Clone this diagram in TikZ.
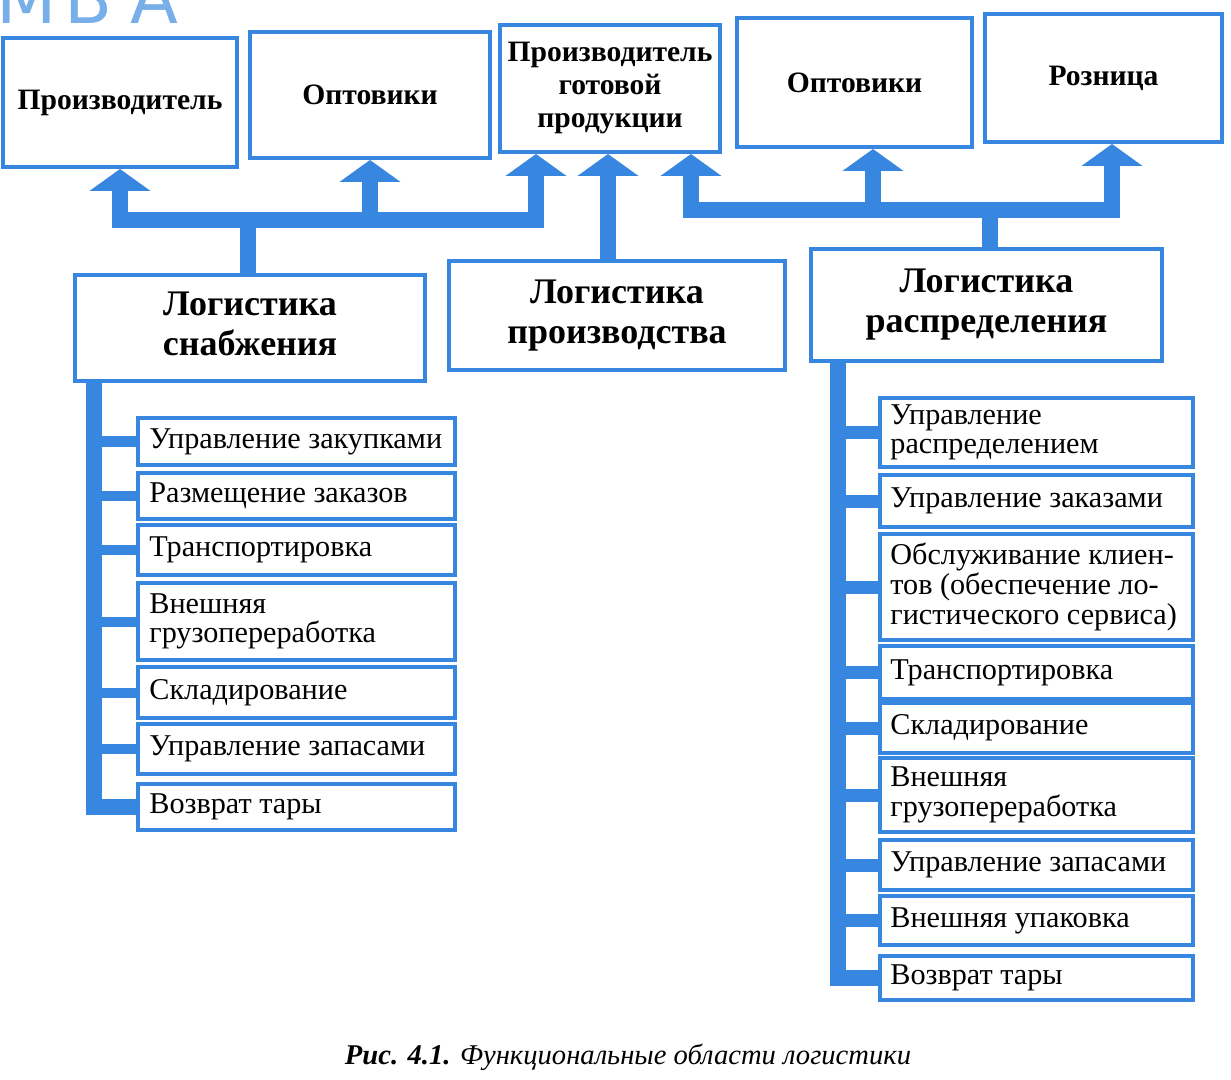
\documentclass[tikz,border=0pt]{standalone}
\usepackage{fontspec}
\setmainfont{Liberation Serif}
\newfontfamily\hdrfont{DejaVu Sans}
\usetikzlibrary{arrows.meta,fit,calc}
\definecolor{bl}{RGB}{55,135,225}
\definecolor{hdrc}{RGB}{120,175,232}
\begin{document}
\begin{tikzpicture}[x=0.5pt,y=-0.5pt,
  bbox/.style={draw=bl, line width=2pt, fill=white, inner sep=0pt},
  ttl/.style={font=\bfseries\fontsize{14.8}{16.5}\selectfont, align=center, inner sep=0pt},
  midtxt/.style={font=\bfseries\fontsize{18}{20}\selectfont, align=center, inner sep=0pt},
  itemtxt/.style={font=\fontsize{15.1}{14.8}\selectfont, align=left, anchor=west, inner sep=0pt},
  flow/.style={draw=bl, line width=8pt, line join=miter},
  uparrow/.style={-{Triangle[width=30pt,length=11pt]}},
  stubL/.style={draw=bl, line width=5pt},
  stubR/.style={draw=bl, line width=6.5pt},
]
\useasboundingbox (0,0) rectangle (1231,1080);
\fill[white] (0,0) rectangle (1231,1080);

% header fragment
\node[anchor=base west, inner sep=0pt, text=hdrc, font=\hdrfont\fontsize{35}{35}\selectfont] (hdr) at (-4,24) {М\kern4pt В\kern9pt А};

% top row
\node[bbox, fit={(3,38) (237,167)}] (top1) {};
\node[ttl] (top1t) at (top1.center) {Производитель};
\node[bbox, fit={(250,32) (490,158)}] (top2) {};
\node[ttl] (top2t) at (top2.center) {Оптовики};
\node[bbox, fit={(500,25) (720,152)}] (top3) {};
\node[ttl] (top3t) at (top3.center) {Производитель\\готовой\\продукции};
\node[bbox, fit={(737,18) (972,147)}] (top4) {};
\node[ttl] (top4t) at (top4.center) {Оптовики};
\node[bbox, fit={(985,14) (1222,142)}] (top5) {};
\node[ttl] (top5t) at (top5.center) {Розница};

% middle row
\node[bbox, fit={(75,275) (425,381)}] (ls) {};
\node[midtxt] (lst) at ([yshift=2pt]ls.center) {Логистика\\снабжения};
\node[bbox, fit={(449,261) (785,370)}] (lp) {};
\node[midtxt] (lpt) at (lp.center) {Логистика\\производства};
\node[bbox, fit={(811,249) (1162,361)}] (lr) {};
\node[midtxt] (lrt) at (lr.center) {Логистика\\распределения};

% left column boxes
\node[bbox, fit={(138,418) (455,465)}] (l1) {};
\node[itemtxt] (l1t) at ([xshift=6.5pt]l1.west) {Управление закупками};
\node[bbox, fit={(138,473) (455,519)}] (l2) {};
\node[itemtxt] (l2t) at ([xshift=6.5pt]l2.west) {Размещение заказов};
\node[bbox, fit={(138,525) (455,575)}] (l3) {};
\node[itemtxt] (l3t) at ([xshift=6.5pt]l3.west) {Транспортировка};
\node[bbox, fit={(138,583) (455,660)}] (l4) {};
\node[itemtxt] (l4t) at ([xshift=6.5pt]l4.west) {Внешняя\\грузопереработка};
\node[bbox, fit={(138,667) (455,718)}] (l5) {};
\node[itemtxt] (l5t) at ([xshift=6.5pt]l5.west) {Складирование};
\node[bbox, fit={(138,724) (455,774)}] (l6) {};
\node[itemtxt] (l6t) at ([xshift=6.5pt]l6.west) {Управление запасами};
\node[bbox, fit={(138,784) (455,830)}] (l7) {};
\node[itemtxt] (l7t) at ([xshift=6.5pt]l7.west) {Возврат тары};

% right column boxes
\node[bbox, fit={(880,398) (1193,467)}] (r1) {};
\node[itemtxt] (r1t) at ([xshift=6pt]r1.west) {Управление\\распределением};
\node[bbox, fit={(880,475) (1193,527)}] (r2) {};
\node[itemtxt] (r2t) at ([xshift=6pt]r2.west) {Управление заказами};
\node[bbox, fit={(880,534) (1193,640)}] (r3) {};
\node[itemtxt] (r3t) at ([xshift=6pt]r3.west) {Обслуживание клиен-\\тов (обеспечение ло-\\гистического сервиса)};
\node[bbox, fit={(880,646) (1193,699)}] (r4) {};
\node[itemtxt] (r4t) at ([xshift=6pt]r4.west) {Транспортировка};
\node[bbox, fit={(880,703) (1193,753)}] (r5) {};
\node[itemtxt] (r5t) at ([xshift=6pt]r5.west) {Складирование};
\node[bbox, fit={(880,758) (1193,832)}] (r6) {};
\node[itemtxt] (r6t) at ([xshift=6pt]r6.west) {Внешняя\\грузопереработка};
\node[bbox, fit={(880,840) (1193,890)}] (r7) {};
\node[itemtxt] (r7t) at ([xshift=6pt]r7.west) {Управление запасами};
\node[bbox, fit={(880,896) (1193,945)}] (r8) {};
\node[itemtxt] (r8t) at ([xshift=6pt]r8.west) {Внешняя упаковка};
\node[bbox, fit={(880,956) (1193,1000)}] (r9) {};
\node[itemtxt] (r9t) at ([xshift=6pt]r9.west) {Возврат тары};

% upper connectors (left bus)
\coordinate (jL) at (248,220);
\coordinate (cL1) at (120,220);
\coordinate (cL2) at (370,220);
\coordinate (cL3) at (536,220);
\draw[flow] (ls.north -| jL) -- (jL);
\draw[flow, uparrow] (jL) -- (cL1) -- (cL1 |- top1.south);
\draw[flow, uparrow] (jL) -- (cL2) -- (cL2 |- top2.south);
\draw[flow, uparrow] (jL) -- (cL3) -- (cL3 |- top3.south);

% middle connector
\coordinate (mx) at (608,0);
\draw[flow, uparrow] (lp.north -| mx) -- (top3.south -| mx);

% upper connectors (right bus)
\coordinate (jR) at (990,210);
\coordinate (cR1) at (691,210);
\coordinate (cR2) at (873,210);
\coordinate (cR3) at (1112,210);
\draw[flow] (lr.north -| jR) -- (jR);
\draw[flow, uparrow] (jR) -- (cR1) -- (cR1 |- top3.south);
\draw[flow, uparrow] (jR) -- (cR2) -- (cR2 |- top4.south);
\draw[flow, uparrow] (jR) -- (cR3) -- (cR3 |- top5.south);

% left spine
\coordinate (vL) at (94,0);
\draw[flow] (ls.south -| vL) -- (vL |- l7.west) -- (l7.west);
\foreach \b in {l1,l2,l3,l4,l5,l6}{\draw[stubL] (vL |- \b.west) -- (\b.west);}

% right spine
\coordinate (vR) at (838,0);
\draw[flow] (lr.south -| vR) -- (vR |- r9.west) -- (r9.west);
\foreach \b in {r1,r2,r3,r4,r5,r6,r7,r8}{\draw[stubR] (vR |- \b.west) -- (\b.west);}

% caption
\node[anchor=base, inner sep=0pt, font=\itshape\fontsize{14.3}{14.3}\selectfont] (cap) at (628,1064) {\textbf{Рис. 4.1.} Функциональные области логистики};
\end{tikzpicture}
\end{document}
